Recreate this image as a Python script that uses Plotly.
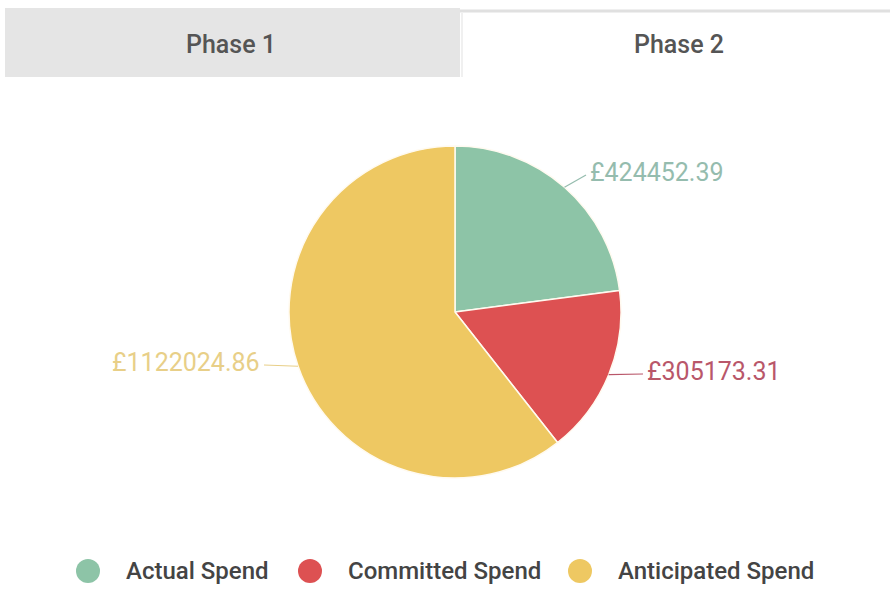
import numpy as np
import plotly.graph_objects as go

# ---- data ----
categories = ["Actual Spend", "Committed Spend", "Anticipated Spend"]
spend = [424452.39, 305173.31, 1122024.86]
tabs = ["Phase 1", "Phase 2"]

# ---- styling ----
slice_colors = ["#8dc4a7", "#dd5152", "#eec862"]
label_colors = ["#95bcae", "#b9576a", "#e8cf88"]
W, H = 890, 590
cx, cy, r = 455, 312, 166          # pie centre / radius in pixels
label_pos = [(588, 172, "left"), (645, 371, "left"), (262, 362, "right")]
legend_x = [88, 310, 580]
legend_y = 571


def px(x):
    return x / W


def py(y):
    return 1 - y / H


fig = go.Figure()

fig.add_trace(go.Pie(
    labels=categories,
    values=spend,
    sort=False,
    direction="clockwise",
    rotation=0,
    marker=dict(colors=slice_colors, line=dict(color="#fffaf0", width=1.5)),
    textinfo="none",
    hoverinfo="label+value",
    showlegend=False,
    domain=dict(x=[px(cx - r), px(cx + r)], y=[py(cy + r), py(cy - r)]),
))

shapes = []
annotations = []

# tab strip
shapes.append(dict(type="rect", xref="paper", yref="paper",
                   x0=px(5), x1=px(460), y0=py(77), y1=py(8),
                   fillcolor="#e5e5e5", line=dict(width=0), layer="below"))
shapes.append(dict(type="line", xref="paper", yref="paper",
                   x0=px(460), x1=px(890), y0=py(11), y1=py(11),
                   line=dict(color="#e0e0e0", width=3)))
shapes.append(dict(type="line", xref="paper", yref="paper",
                   x0=px(462), x1=px(462), y0=py(12), y1=py(77),
                   line=dict(color="#f0f0f0", width=2)))
for name, tx in zip(tabs, [231, 679]):
    annotations.append(dict(text=name, x=px(tx), y=py(44), xref="paper", yref="paper",
                            showarrow=False, xanchor="center", yanchor="middle",
                            font=dict(family="Roboto", size=25, weight=500, color="#555555")))

# value labels with leader lines from each slice's mid angle
total = sum(spend)
cum = np.cumsum([0] + spend)
for i, v in enumerate(spend):
    mid = (cum[i] + v / 2) / total * 2 * np.pi
    ex, ey = cx + r * np.sin(mid), cy - r * np.cos(mid)
    lx, ly, side = label_pos[i]
    end_x = lx - 2 if side == "left" else lx + 2
    shapes.append(dict(type="line", xref="paper", yref="paper",
                       x0=px(ex), y0=py(ey), x1=px(end_x), y1=py(ly + 3),
                       line=dict(color=label_colors[i], width=1.2)))
    annotations.append(dict(text=f"£{v:.2f}", x=px(lx), y=py(ly), xref="paper", yref="paper",
                            showarrow=False, xanchor=side, yanchor="middle",
                            font=dict(family="Roboto", size=25, color=label_colors[i])))

# legend with round swatches
for name, col, lx in zip(categories, slice_colors, legend_x):
    shapes.append(dict(type="circle", xref="paper", yref="paper",
                       x0=px(lx - 12), x1=px(lx + 12), y0=py(legend_y + 12), y1=py(legend_y - 12),
                       fillcolor=col, line=dict(width=0)))
    annotations.append(dict(text=name, x=px(lx + 36), y=py(legend_y), xref="paper", yref="paper",
                            showarrow=False, xanchor="left", yanchor="middle",
                            font=dict(family="Roboto", size=24, weight=500, color="#444444")))

fig.update_layout(
    width=W, height=H, autosize=False,
    margin=dict(l=0, r=0, t=0, b=0),
    paper_bgcolor="white", plot_bgcolor="white",
    shapes=shapes, annotations=annotations,
)

fig.write_html("out.html")
